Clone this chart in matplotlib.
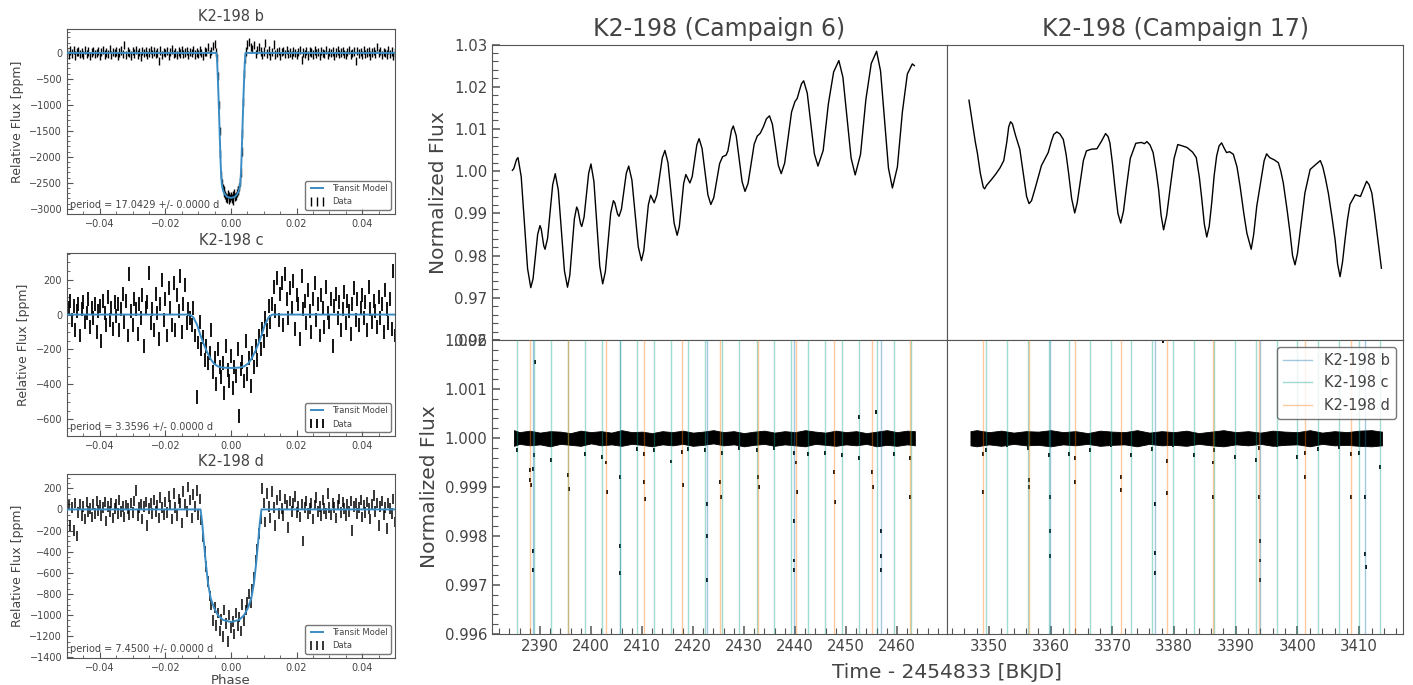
import numpy as np
import matplotlib.pyplot as plt

plt.rcParams.update({
    'font.family': 'DejaVu Sans',
    'text.color': '#444444',
    'axes.labelcolor': '#444444',
    'axes.edgecolor': '#555555',
    'xtick.color': '#555555',
    'ytick.color': '#555555',
    'xtick.labelcolor': '#444444',
    'ytick.labelcolor': '#444444',
    'xtick.direction': 'in',
    'ytick.direction': 'in',
    'xtick.minor.visible': True,
    'ytick.minor.visible': True,
})

# ---- phase folded data (ppm), evenly spaced bins from -0.05 to 0.05 ----
b_vals = [20, -35, 45, -10, 60, -50, 15, 30, -25, 5,
          -40, 55, -15, 25, -60, 10, 40, -20, 0, 35,
          -55, 15, 50, -30, 5, -15, 70, -45, 20, -5,
          30, -65, 10, 45, -20, 150, -35, 25, 0, -50,
          40, -10, 60, -30, 15, -85, 35, -5, 25, -40,
          10, 55, -25, 30, -15, 5, -150, 45, -35, 20,
          0, 40, -55, 15, 65, -20, 10, -40, 30, -10,
          50, -25, 5, 35, -45, 20, -5, 60, -30, 10,
          -15, 45, 0, -60, 25, 15, 110, -20, 40, 130, 170,
          20, -450, -1500, -2350, -2600, -2700, -2780, -2720, -2820, -2760,
          -2840, -2700, -2750, -2650, -2580, -2300, -1550, -400, 30,
          160, 210, 120, 80, 150, -20, 60, 110, 30, -40,
          25, 190, -10, 45, -55, 20, 160, -30, 10, 40,
          -60, 15, 35, -25, 50, -15, 5, -45, 30, 0,
          -35, 20, 55, -140, 10, -20, 40, -50, 25, 5,
          -30, 45, -10, 15, -55, 35, 0, -20, 50, -40,
          20, -5, 30, -60, 10, 45, -25, 5, 35, -15,
          -45, 20, 60, -30, 0, 25, -150, 40, -10, 15,
          -35, 55, -20, 10, 30, -50, 5, 40, -25, 120,
          -5, 35, -45, 20, 0, -30, 50, -15, 25, -60, 10]
b_in_phase = [-0.00425, -0.00375, -0.00325, -0.00275, -0.00225, -0.00175, -0.00125, -0.00075, -0.00025,
              0.00025, 0.00075, 0.00125, 0.00175, 0.00225, 0.00275, 0.00325, 0.00375, 0.00425]
b_in_vals = [-100, -1000, -1950, -2500, -2650, -2730, -2800, -2760, -2790,
             -2800, -2740, -2770, -2700, -2640, -2480, -1900, -950, -120]

c_vals = [-60, 40, 80, -30, 50, -90, 20, 60, -120, 30,
          70, -40, 10, 90, -70, 40, -20, 60, -100, 20,
          50, -150, 80, 10, -60, 100, -30, 40, -80, 70,
          -10, 60, -90, 30, 120, -40, 80, -120, 230, 20,
          -60, 90, 30, -110, 60, -20, 110, -180, 40, 70,
          240, -50, 30, -90, 120, 10, -140, 60, 200, -30,
          90, -120, 150, 40, -60, 180, -90, 110, 20, 220, -100, 60, 170, -50, 30,
          -20, -60, 40, -120, -470, -160, -40, -200, -130, -260,
          -180, -280, -220, -90, -330, -250, -400, -200, -300, -360,
          -280, -450, -180, -320, -380, -240, -420, -300, -350, -200,
          -580, -310, -270, -380, -150, -340, -250, -410, -220, -300,
          -180, -260, -120, -200, -80, -150, -20, -90, 50, -40, 60,
          160, 20, 210, -30, 120, 180, -60, 230, 90, -20,
          150, 40, 190, -80, 110, 60, -140, 220, 30, 80,
          -50, 140, 20, -100, 90, 180, -30, 60, -120, 110,
          40, -70, 160, 10, -40, 90, -180, 50, 120, -20,
          70, -90, 30, 130, -50, 80, 20, -110, 60, 150,
          -30, 90, -60, 40, 110, -20, 70, -90, 160, 30,
          -40, 80, 20, -70, 100, -20, 60, -100, 140, 30, -50, 90, -80, 250, -120]

d_vals = [-80, 40, -150, 20, -200, 60, -250, -30, 50, -60,
          30, -90, 70, -20, 10, -70, 50, -40, 80, -10,
          40, -60, 20, 70, -110, 30, -20, 60, -80, 10,
          50, -40, 90, -20, 30, -70, 40, 10, -50, 60,
          -30, 80, 180, -60, 20, 50, -90, 30, 70, -150,
          10, 60, -40, 90, -20, 40, -80, 110, 20, -50,
          70, -30, 120, 40, -90, 150, 20, -60, 100, 60, -130, 170, 50, -20, 210, 90, -80, 140, 30, 180, -50, 100,
          -100, -260, -400, -540, -680, -820, -900, -1050, -930, -1100,
          -980, -1150, -1040, -1200, -950, -1080, -1250, -1000, -1120, -1060,
          -1180, -980, -1100, -1020, -1150, -900, -1050, -950, -880, -800,
          -880, -760, -640, -480, -380, -230, -90,
          200, 60, -120, 150, 30, -80, 170, 20, -150, 90, -40, 130, 10, -60, 100, 40, -170, 80, -20, 60, 120, -30,
          30, -70, 50, -300, 20, 80, -40, 10, 60, -90,
          40, 110, -20, 30, -60, 90, 10, -40, 150, 20,
          -50, 60, 20, -80, 40, 100, -30, 70, 10, -60,
          50, -20, 80, -200, 30, 60, -40, 20, 90, -70,
          40, -30, 70, 10, -90, 50, 130, -20, 60, -150,
          30, 80, -50, 20, -180, 60, 10, -40, 100, -120]

b_model_x = [-0.05, -0.0044, -0.0042, -0.0040, -0.0038, -0.0036, -0.0034, -0.0032, -0.0030, -0.0028, -0.0025,
             -0.0020, -0.0012, 0.0, 0.0012, 0.0020, 0.0025, 0.0028, 0.0030, 0.0032, 0.0034, 0.0036, 0.0038,
             0.0040, 0.0042, 0.0044, 0.05]
b_model_y = [0, 0, -200, -500, -850, -1250, -1650, -2050, -2350, -2520, -2630,
             -2710, -2770, -2790, -2770, -2710, -2630, -2520, -2350, -2050, -1650, -1250, -850,
             -500, -200, 0, 0]
c_model_x = [-0.05, -0.0126, -0.0115, -0.0103, -0.0093, -0.0083, -0.0073, -0.0062, -0.0052, -0.004, -0.0025, 0.0,
             0.0025, 0.004, 0.0052, 0.0062, 0.0073, 0.0083, 0.0093, 0.0103, 0.0115, 0.0126, 0.05]
c_model_y = [0, 0, -15, -60, -119, -170, -214, -255, -281, -297, -304, -306,
             -304, -297, -281, -255, -214, -170, -119, -60, -15, 0, 0]
d_model_x = [-0.05, -0.0093, -0.0088, -0.0083, -0.0077, -0.0070, -0.0062, -0.0052, -0.0040, -0.0025, 0.0,
             0.0025, 0.0040, 0.0052, 0.0062, 0.0070, 0.0077, 0.0083, 0.0088, 0.0093, 0.05]
d_model_y = [0, 0, -120, -300, -500, -700, -840, -930, -1000, -1045, -1065,
             -1045, -1000, -930, -840, -700, -500, -300, -120, 0, 0]

# ---- raw light curves, (time, normalized flux) ----
lc6 = [(2384.6, 1.0002), (2384.875, 1.0006), (2385.15, 1.0017), (2385.425, 1.0028), (2385.7, 1.0032),
       (2386.325, 0.9987), (2386.95, 0.9878), (2387.575, 0.9769), (2388.2, 0.9724), (2388.65, 0.9745),
       (2389.1, 0.9798), (2389.55, 0.9850), (2390.0, 0.9871), (2390.25, 0.9863), (2390.5, 0.9843),
       (2390.75, 0.9823), (2391.0, 0.9815), (2391.5, 0.9841), (2392.0, 0.9905), (2392.5, 0.9968),
       (2393.0, 0.9994), (2393.6, 0.9955), (2394.2, 0.9860), (2394.8, 0.9764), (2395.4, 0.9725),
       (2395.85, 0.9753), (2396.3, 0.9820), (2396.75, 0.9887), (2397.2, 0.9915), (2397.45, 0.9908),
       (2397.7, 0.9892), (2397.95, 0.9876), (2398.2, 0.9869), (2398.65, 0.9891), (2399.1, 0.9943),
       (2399.55, 0.9995), (2400.0, 1.0017), (2400.575, 0.9976), (2401.15, 0.9875), (2401.725, 0.9775),
       (2402.3, 0.9733), (2402.825, 0.9762), (2403.35, 0.9832), (2403.875, 0.9901), (2404.4, 0.9930),
       (2404.675, 0.9925), (2404.95, 0.9912), (2405.225, 0.9898), (2405.5, 0.9893), (2405.975, 0.9910),
       (2406.45, 0.9953), (2406.925, 0.9995), (2407.4, 1.0012), (2408.025, 0.9979), (2408.65, 0.9900),
       (2409.275, 0.9821), (2409.9, 0.9788), (2410.35, 0.9811), (2410.8, 0.9866), (2411.25, 0.9920),
       (2411.7, 0.9943), (2412.05, 0.9934), (2412.4, 0.9925), (2412.925, 0.9943), (2413.45, 0.9987),
       (2413.975, 1.0031), (2414.5, 1.0049), (2415.1, 1.0020), (2415.7, 0.9949), (2416.3, 0.9877),
       (2416.9, 0.9848), (2417.325, 0.9869), (2417.75, 0.9920), (2418.175, 0.9971), (2418.6, 0.9992),
       (2419.0, 0.9982), (2419.4, 0.9972), (2419.85, 0.9987), (2420.3, 1.0025), (2420.75, 1.0062),
       (2421.2, 1.0077), (2421.775, 1.0054), (2422.35, 0.9999), (2422.925, 0.9944), (2423.5, 0.9921),
       (2424.075, 0.9937), (2424.65, 0.9978), (2425.225, 1.0018), (2425.8, 1.0034), (2426.5, 1.0038),
       (2426.85, 1.0048), (2427.2, 1.0073), (2427.55, 1.0097), (2427.9, 1.0107), (2428.475, 1.0084),
       (2429.05, 1.0030), (2429.625, 0.9975), (2430.2, 0.9952), (2430.8, 0.9971), (2431.4, 1.0018),
       (2432.0, 1.0064), (2432.6, 1.0083), (2433.2, 1.0090), (2433.8, 1.0105), (2434.4, 1.0124),
       (2435.0, 1.0131), (2435.575, 1.0111), (2436.15, 1.0063), (2436.725, 1.0014), (2437.3, 0.9994),
       (2437.975, 1.0019), (2438.65, 1.0080), (2439.325, 1.0140), (2440.0, 1.0165), (2440.425, 1.0172),
       (2440.85, 1.0190), (2441.275, 1.0207), (2441.7, 1.0214), (2442.4, 1.0185), (2443.1, 1.0113),
       (2443.8, 1.0041), (2444.5, 1.0012), (2445.525, 1.0049), (2446.55, 1.0160), (2447.575, 1.0235),
       (2448.6, 1.0262), (2449.4, 1.0222), (2450.2, 1.0127), (2451.0, 1.0031), (2451.8, 0.9991),
       (2452.85, 1.0040), (2453.9, 1.0170), (2454.95, 1.0255), (2456.0, 1.0284), (2456.775, 1.0237),
       (2457.55, 1.0122), (2458.325, 1.0007), (2459.1, 0.9960), (2460.075, 1.0010), (2461.05, 1.0140),
       (2462.025, 1.0230), (2463.0, 1.0254), (2463.4, 1.0250)]
lc17 = [(3346.76, 1.0168), (3347.1, 1.0135), (3347.46, 1.0099), (3347.8, 1.0068), (3348.11, 1.0044),
        (3348.6, 0.9995), (3349.08, 0.9962), (3349.3, 0.9958), (3349.6, 0.9966), (3350.4, 0.9980),
        (3351.1, 0.9993), (3351.8, 1.0008), (3352.4, 1.0025), (3352.9, 1.0070), (3353.2, 1.0105),
        (3353.5, 1.0117), (3353.8, 1.0112), (3354.3, 1.0085), (3355.0, 1.0052), (3355.6, 0.9990),
        (3356.1, 0.9940), (3356.5, 0.9923), (3356.9, 0.9930), (3357.5, 0.9960), (3358.5, 1.0013),
        (3359.6, 1.0044), (3360.1, 1.0070), (3360.5, 1.0087), (3361.0, 1.0093), (3361.5, 1.0088),
        (3362.05, 1.0075), (3362.5, 1.0040), (3362.9, 0.9996), (3363.4, 0.9935), (3363.9, 0.9901),
        (3364.3, 0.9925), (3364.8, 0.9975), (3365.3, 1.0025), (3365.8, 1.0048), (3366.6, 1.0052),
        (3367.5, 1.0053), (3368.2, 1.0070), (3368.9, 1.0089), (3369.3, 1.0082), (3369.6, 1.0067),
        (3370.0, 1.0020), (3370.4, 0.9964), (3370.9, 0.9900), (3371.35, 0.9877), (3371.8, 0.9905),
        (3372.3, 0.9964), (3372.9, 1.0030), (3373.8, 1.0066), (3374.7, 1.0068), (3375.2, 1.0065),
        (3375.6, 1.0070), (3376.1, 1.0062), (3376.6, 1.0044), (3377.1, 1.0000), (3377.5, 0.9956),
        (3377.9, 0.9895), (3378.3, 0.9861), (3378.8, 0.9895), (3379.4, 0.9964), (3380.0, 1.0030),
        (3380.6, 1.0063), (3381.3, 1.0060), (3382.1, 1.0056), (3383.0, 1.0045), (3383.6, 1.0032),
        (3384.1, 0.9985), (3384.5, 0.9933), (3384.9, 0.9875), (3385.3, 0.9844), (3385.7, 0.9870),
        (3386.1, 0.9925), (3386.5, 0.9990), (3386.9, 1.0036), (3387.3, 1.0060), (3387.7, 1.0067),
        (3388.1, 1.0055), (3388.5, 1.0044), (3389.0, 1.0046), (3389.6, 1.0040), (3390.2, 1.0010),
        (3390.7, 0.9964), (3391.3, 0.9900), (3391.8, 0.9853), (3392.5, 0.9815), (3392.9, 0.9850),
        (3393.4, 0.9917), (3394.2, 0.9988), (3394.6, 1.0025), (3395.0, 1.0041), (3395.5, 1.0032),
        (3396.2, 1.0027), (3396.9, 1.0020), (3397.3, 1.0000), (3397.7, 0.9972), (3398.3, 0.9910),
        (3398.8, 0.9853), (3399.2, 0.9800), (3399.6, 0.9778), (3400.0, 0.9805), (3400.4, 0.9853),
        (3401.2, 0.9948), (3402.05, 1.0004), (3402.9, 1.0015), (3403.7, 1.0025), (3404.1, 1.0010),
        (3404.5, 0.9985), (3405.0, 0.9948), (3405.6, 0.9890), (3406.1, 0.9837), (3406.5, 0.9780),
        (3406.9, 0.9750), (3407.3, 0.9785), (3407.7, 0.9837), (3408.1, 0.9885), (3408.5, 0.9921),
        (3409.35, 0.9944), (3410.2, 0.9940), (3410.7, 0.9958), (3411.2, 0.9976), (3411.6, 0.9968),
        (3412.05, 0.9948), (3412.5, 0.9900), (3412.9, 0.9853), (3413.6, 0.9770)]

# ---- flattened light curves: noise band envelope + in-transit points ----
band_t6 = [2384.9, 2386, 2388, 2390, 2392, 2394, 2396, 2398, 2400, 2402, 2404, 2406, 2408, 2410, 2412,
           2414, 2416, 2418, 2420, 2422, 2424, 2426, 2428, 2430, 2432, 2434, 2436, 2438, 2440, 2442,
           2444, 2446, 2448, 2450, 2452, 2454, 2456, 2458, 2460, 2462, 2463.5]
band_up6 = [1.00016, 1.00012, 1.00015, 1.00011, 1.00014, 1.00013, 1.00010, 1.00015, 1.00012, 1.00014,
            1.00011, 1.00016, 1.00012, 1.00013, 1.00010, 1.00014, 1.00012, 1.00015, 1.00011, 1.00013,
            1.00016, 1.00012, 1.00014, 1.00010, 1.00013, 1.00015, 1.00011, 1.00014, 1.00012, 1.00016,
            1.00013, 1.00011, 1.00015, 1.00012, 1.00014, 1.00010, 1.00013, 1.00016, 1.00012, 1.00015, 1.00014]
band_lo6 = [0.99984, 0.99988, 0.99985, 0.99987, 0.99983, 0.99988, 0.99986, 0.99984, 0.99989, 0.99985,
            0.99987, 0.99984, 0.99988, 0.99986, 0.99983, 0.99987, 0.99985, 0.99988, 0.99984, 0.99986,
            0.99989, 0.99985, 0.99987, 0.99983, 0.99986, 0.99988, 0.99984, 0.99987, 0.99985, 0.99983,
            0.99988, 0.99986, 0.99984, 0.99987, 0.99985, 0.99988, 0.99983, 0.99986, 0.99984, 0.99987, 0.99985]
band_t17 = [3347.0, 3348, 3350, 3352, 3354, 3356, 3358, 3360, 3362, 3364, 3366, 3368, 3370, 3372, 3374,
            3376, 3378, 3380, 3382, 3384, 3386, 3388, 3390, 3392, 3394, 3396, 3398, 3400, 3402, 3404,
            3406, 3408, 3410, 3412, 3413.7]
band_up17 = [1.00014, 1.00016, 1.00012, 1.00015, 1.00011, 1.00014, 1.00013, 1.00016, 1.00012, 1.00014,
             1.00010, 1.00015, 1.00013, 1.00012, 1.00016, 1.00011, 1.00014, 1.00012, 1.00015, 1.00010,
             1.00013, 1.00016, 1.00012, 1.00014, 1.00011, 1.00015, 1.00013, 1.00012, 1.00016, 1.00011,
             1.00014, 1.00012, 1.00015, 1.00016, 1.00013]
band_lo17 = [0.99985, 0.99983, 0.99987, 0.99984, 0.99988, 0.99985, 0.99986, 0.99983, 0.99987, 0.99985,
             0.99988, 0.99984, 0.99986, 0.99987, 0.99983, 0.99988, 0.99985, 0.99986, 0.99984, 0.99988,
             0.99985, 0.99983, 0.99987, 0.99985, 0.99988, 0.99984, 0.99986, 0.99987, 0.99983, 0.99988,
             0.99985, 0.99986, 0.99984, 0.99983, 0.99985]

dip_t6 = [2385.44, 2388.10, 2388.13, 2388.16, 2388.62, 2388.65, 2388.68, 2388.80, 2392.16, 2395.56, 2395.60,
          2398.88, 2402.24, 2403.00, 2403.05, 2405.66, 2405.69, 2405.72, 2408.96, 2410.45, 2410.48, 2410.51,
          2412.32, 2415.68, 2417.90, 2417.95, 2419.04, 2422.40, 2422.72, 2422.74, 2422.76, 2425.36, 2425.40,
          2425.76, 2429.12, 2432.81, 2432.85, 2432.48, 2435.84, 2439.74, 2439.76, 2439.78, 2439.80, 2440.26,
          2440.30, 2442.56, 2445.92, 2447.70, 2447.75, 2449.28, 2452.63, 2455.16, 2455.20, 2456.80, 2456.82,
          2456.84, 2459.35, 2462.55, 2462.60, 2389.05, 2452.55, 2455.90]
dip_f6 = [0.99975, 0.99935, 0.99915, 0.99905, 0.99937, 0.99770, 0.99730, 0.99965, 0.99955, 0.99925, 0.99895,
          0.99968, 0.99962, 0.99950, 0.99890, 0.99920, 0.99780, 0.99725, 0.99978, 0.99968, 0.99910, 0.99875,
          0.99975, 0.99952, 0.99972, 0.99905, 0.99978, 0.99975, 0.99865, 0.99800, 0.99710, 0.99910, 0.99880,
          0.99970, 0.99980, 0.99920, 0.99900, 0.99975, 0.99980, 0.99970, 0.99830, 0.99750, 0.99730, 0.99950,
          0.99890, 0.99968, 0.99970, 0.99930, 0.99870, 0.99966, 0.99960, 0.99930, 0.99900, 0.99810, 0.99760,
          0.99730, 0.99968, 0.99960, 0.99880, 1.00155, 1.00043, 1.00053]
dip_t17 = [3349.06, 3349.10, 3349.57, 3352.93, 3356.30, 3356.50, 3356.55, 3359.65, 3359.87, 3359.89, 3359.91,
           3363.01, 3363.96, 3364.00, 3366.37, 3369.73, 3371.41, 3371.45, 3373.09, 3376.45, 3376.91, 3376.93,
           3376.95, 3378.86, 3378.90, 3379.81, 3383.17, 3386.31, 3386.35, 3386.53, 3389.89, 3393.25, 3393.76,
           3393.80, 3393.95, 3393.97, 3393.99, 3396.61, 3399.97, 3401.21, 3401.25, 3403.33, 3406.69, 3408.66,
           3408.70, 3410.05, 3411.00, 3411.02, 3411.04, 3413.41, 3378.20]
dip_f17 = [0.99968, 0.99890, 0.99975, 0.99985, 0.99980, 0.99915, 0.99900, 0.99965, 0.99880, 0.99810, 0.99760,
           0.99968, 0.99960, 0.99910, 0.99975, 0.99985, 0.99920, 0.99893, 0.99966, 0.99978, 0.99866, 0.99765,
           0.99725, 0.99954, 0.99887, 0.99985, 0.99966, 0.99950, 0.99880, 0.99975, 0.99962, 0.99955, 0.99980,
           0.99880, 0.99790, 0.99750, 0.99710, 0.99985, 0.99962, 0.99970, 0.99920, 0.99978, 0.99982, 0.99968,
           0.99880, 0.99970, 0.99880, 0.99764, 0.99737, 0.99940, 1.00198]

# transit epochs
b_ep6 = [2388.65, 2405.69, 2422.74, 2439.78, 2456.82]
c_ep6 = [2385.44, 2388.80, 2392.16, 2395.52, 2398.88, 2402.24, 2405.60, 2408.96, 2412.32, 2415.68, 2419.04,
         2422.40, 2425.76, 2429.12, 2432.48, 2435.84, 2439.20, 2442.56, 2445.92, 2449.28, 2452.63, 2455.99,
         2459.35, 2462.65]
d_ep6 = [2388.13, 2395.58, 2403.03, 2410.48, 2417.93, 2425.38, 2432.83, 2440.28, 2447.73, 2455.18, 2462.58]
b_ep17 = [3359.89, 3376.93, 3393.97, 3411.02]
c_ep17 = [3349.57, 3352.93, 3356.29, 3359.65, 3363.01, 3366.37, 3369.73, 3373.09, 3376.45, 3379.81, 3383.17,
          3386.53, 3389.89, 3393.25, 3396.61, 3399.97, 3403.33, 3406.69, 3410.05, 3413.41]
d_ep17 = [3349.08, 3356.53, 3363.98, 3371.43, 3378.88, 3386.33, 3393.78, 3401.23, 3408.68]

planets = ['K2-198 b', 'K2-198 c', 'K2-198 d']
periods = ['17.0429', '3.3596', '7.4500']
pcolors = ['#1f77b4', '#17a589', '#ff7f0e']

W, H = 1413, 685
fig = plt.figure(figsize=(W / 100, H / 100), dpi=100)


def fold_panel(box, vals, err, lw, mx, my, name, period, ylim):
    ax = fig.add_axes([box[0] / W, 1 - box[3] / H, (box[2] - box[0]) / W, (box[3] - box[1]) / H])
    ph = np.linspace(-0.05, 0.05, len(vals))
    ax.errorbar(ph, vals, yerr=err, fmt='none', ecolor='k', elinewidth=lw, label='Data')
    ax.plot(mx, my, color='#3a8cc4', lw=1.4, label='Transit Model', zorder=4)
    ax.set_xlim(-0.05, 0.05)
    ax.set_ylim(*ylim)
    ax.set_title(name, fontsize=10.5, color='#444444')
    ax.set_ylabel('Relative Flux [ppm]', fontsize=9)
    ax.tick_params(labelsize=7, length=4)
    ax.tick_params(which='minor', length=2.5)
    ax.legend(loc='lower right', fontsize=6, numpoints=3, edgecolor='#555555')
    ax.text(0.01, 0.05, f'period = {period} +/- 0.0000 d', transform=ax.transAxes,
            fontsize=7, va='center', color='#444444')
    return ax


ax_b = fold_panel((67, 29, 395, 214), b_vals, 80, 1.0, b_model_x, b_model_y,
                  planets[0], periods[0], (-3100, 460))
ax_b.errorbar(b_in_phase, b_in_vals, yerr=80, fmt='none', ecolor='k', elinewidth=1.0)
ax_c = fold_panel((67, 253, 395, 436), c_vals, 40, 1.3, c_model_x, c_model_y,
                  planets[1], periods[1], (-696, 353))
ax_d = fold_panel((67, 474, 395, 658), d_vals, 50, 1.1, d_model_x, d_model_y,
                  planets[2], periods[2], (-1406, 335))
ax_d.set_xlabel('Phase', fontsize=9.5, labelpad=1)

# ---- right block ----
x0, xm, x1 = 492, 947, 1403
ytop, ymid, ybot = 44.5, 340, 634
ax_t6 = fig.add_axes([x0 / W, 1 - ymid / H, (xm - x0) / W, (ymid - ytop) / H])
ax_t17 = fig.add_axes([xm / W, 1 - ymid / H, (x1 - xm) / W, (ymid - ytop) / H], sharey=ax_t6)
ax_f6 = fig.add_axes([x0 / W, 1 - ybot / H, (xm - x0) / W, (ybot - ymid) / H], sharex=ax_t6)
ax_f17 = fig.add_axes([xm / W, 1 - ybot / H, (x1 - xm) / W, (ybot - ymid) / H], sharex=ax_t17, sharey=ax_f6)

t6, f6 = zip(*lc6)
t17, f17 = zip(*lc17)
ax_t6.plot(t6, f6, color='k', lw=1.0)
ax_t17.plot(t17, f17, color='k', lw=1.0)
ax_t6.set_ylim(0.96, 1.03)
ax_f6.set_ylim(0.996, 1.002)
ax_t6.set_xlim(2380.6, 2469.8)
ax_t17.set_xlim(3343.2, 3417.1)
ax_t6.set_title('K2-198 (Campaign 6)', fontsize=17, color='#444444')
ax_t17.set_title('K2-198 (Campaign 17)', fontsize=17, color='#444444')

for ax, bt, up, lo, dt, df, eps in [
        (ax_f6, band_t6, band_up6, band_lo6, dip_t6, dip_f6, (b_ep6, c_ep6, d_ep6)),
        (ax_f17, band_t17, band_up17, band_lo17, dip_t17, dip_f17, (b_ep17, c_ep17, d_ep17))]:
    ax.fill_between(bt, lo, up, color='k', lw=0.6, edgecolor='k')
    ax.errorbar(dt, df, yerr=0.00004, fmt='none', ecolor='k', elinewidth=1.3)
    for name, col, ep in zip(planets, pcolors, eps):
        for i, t in enumerate(ep):
            ax.axvline(t, color=col, alpha=0.4, lw=1.0, zorder=3, label=name if i == 0 else None)

ax_f17.legend(loc='upper right', fontsize=10.5, edgecolor='#555555')

for ax in (ax_t6, ax_t17, ax_f6, ax_f17):
    ax.tick_params(labelsize=10.7, length=6, width=1.1)
    ax.tick_params(which='minor', length=4, width=0.8)
for ax in (ax_t6, ax_t17):
    ax.tick_params(which='both', bottom=False, labelbottom=False)
for ax in (ax_t17, ax_f17):
    ax.tick_params(which='both', left=False, labelleft=False)

ax_t6.set_ylabel('Normalized Flux', fontsize=14.5)
ax_f6.set_ylabel('Normalized Flux', fontsize=14.5)
fig.text(xm / W, 1 - 672 / H, 'Time - 2454833 [BKJD]', ha='center', va='center', fontsize=14.5)

fig.savefig('out.png', dpi=100)
